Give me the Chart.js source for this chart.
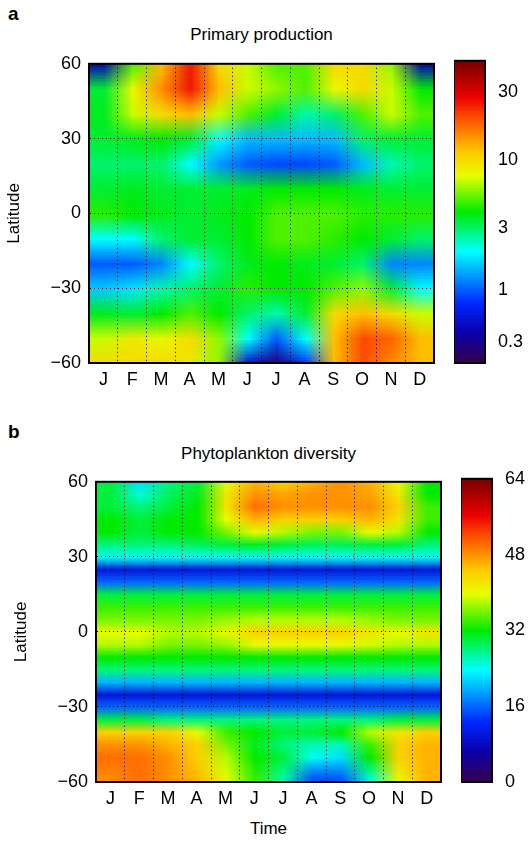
<!DOCTYPE html>
<html><head><meta charset="utf-8">
<script src="https://cdn.jsdelivr.net/npm/chart.js@4"></script>
<style>
body{margin:0;width:528px;height:841px;background:#fff;font-family:"Liberation Sans",Arial,sans-serif;position:relative;overflow:hidden}
.t{position:absolute;font-size:17px;color:#000}
.box{position:absolute}
</style></head><body>
<div class="t" style="left:8px;top:3px;font-weight:bold;font-size:19px">a</div>
<div class="t" style="left:89px;width:345px;top:25px;text-align:center">Primary production</div>
<div class="t" style="left:8px;top:421px;font-weight:bold;font-size:19px">b</div>
<div class="t" style="left:96px;width:345px;top:444px;text-align:center">Phytoplankton diversity</div>
<div class="t" style="left:96px;width:345px;top:819px;text-align:center">Time</div>
<div class="box" style="left:0;top:45px;width:449px;height:355px"><canvas id="heatA"></canvas></div>
<div class="box" style="left:454px;top:45px;width:74px;height:355px"><canvas id="barA"></canvas></div>
<div class="box" style="left:7px;top:463px;width:449px;height:356px"><canvas id="heatB"></canvas></div>
<div class="box" style="left:461px;top:463px;width:67px;height:356px"><canvas id="barB"></canvas></div>
<script>
const months = ["J","F","M","A","M","J","J","A","S","O","N","D"];
const latTicks = [60,30,0,-30,-60];

// primary production, rows every 10 deg from 60 to -60, cols = months
const production = [
  [0.4,5,12,25,10,7,5,5,10,10,6,0.4],
  [3.5,8,15,25,12,7,6,5,8,10,7,4],
  [3.7,7,10,12,7,5,3.5,2.5,3,5,7,5],
  [3.5,3.7,4,3.5,2,1.5,1.5,1.5,1.5,3,3.5,3.5],
  [3,3,3,2,1.3,1,0.9,0.9,1,1.5,2.5,3],
  [3.5,3.7,3.5,3.5,3.5,3.7,4,4,4,3.7,3.5,3.5],
  [4.5,4,3.7,3.5,3.7,4,5,5,5,4.5,4.5,4.5],
  [2,2,3,3.5,3.5,4,5,5,4.5,4,3.5,3],
  [1,1,1.2,2,3,3.7,4,3.7,3.5,3,1.2,1.2],
  [1.6,1.8,2.5,3,3.5,4.5,4,4,5,6,3.5,2],
  [3.7,3.5,4,5,4,3,2.5,3.5,10,12,10,7],
  [7,9,8,10,6,2,1,2,12,20,18,12],
  [10,10,10,9,6,0.5,0.25,0.8,12,20,15,12]
];
// colour bar ticks and their read-off fraction of the bar height
const prodTicks = [0.3,1,3,10,30];
const prodTickPos = [0.071,0.24,0.445,0.672,0.896];

// phytoplankton diversity, rows every 5 deg from 60 to -60
const diversity = [
  [30,22,28,30,40,46,44,46,48,46,40,32],
  [30,25,29,31,42,48,47,48,48,47,42,32],
  [30,28,30,32,42,50,48,48,48,48,44,34],
  [32,30,32,32,40,46,44,44,44,46,42,34],
  [32,30,32,32,36,40,38,36,36,40,38,32],
  [28,28,28,29,30,31,30,29,29,30,30,28],
  [24,24,24,24,24,24,24,24,24,24,24,24],
  [10,10,10,10,10,10,10,10,10,10,10,10],
  [16,16,16,16,16,16,16,16,16,16,16,16],
  [30,30,30,30,30,30,30,30,30,30,30,30],
  [34,34,34,34,34,34,34,34,34,34,34,34],
  [36,36,36,36,37,38,38,38,38,37,36,36],
  [40,40,38,38,40,44,44,44,44,42,40,42],
  [38,38,36,36,37,40,40,40,40,39,38,38],
  [32,32,32,32,32,32,32,32,32,32,32,32],
  [28,28,28,28,28,28,28,28,28,28,28,28],
  [20,20,20,20,20,20,20,20,20,20,20,20],
  [10,10,10,10,10,10,10,10,10,10,10,10],
  [16,16,16,16,16,16,16,16,16,16,16,16],
  [30,30,28,28,28,28,28,28,28,28,30,30],
  [44,44,44,40,34,32,30,30,32,38,42,44],
  [48,48,46,44,36,31,28,26,26,34,44,46],
  [50,50,48,44,38,32,30,24,22,32,44,46],
  [49,50,48,45,39,33,28,18,18,28,42,46],
  [48,50,48,46,40,34,26,14,14,24,40,46]
];
const divTicks = [0,16,32,48,64];

const cmap = [
  [0,[55,0,75]],[0.1,[10,0,170]],[0.2,[0,40,255]],[0.37,[0,255,255]],
  [0.5,[0,235,0]],[0.62,[230,255,0]],[0.7,[255,200,0]],[0.8,[255,90,0]],
  [0.88,[235,0,0]],[1,[120,0,0]]
];
function colour(t){
  t = Math.max(0, Math.min(1, t));
  for (let i = 1; i < cmap.length; i++){
    if (t <= cmap[i][0]){
      const [t0,c0] = cmap[i-1], [t1,c1] = cmap[i], f = (t-t0)/(t1-t0);
      return c0.map((c,k) => Math.round(c + f*(c1[k]-c)));
    }
  }
  return cmap[cmap.length-1][1];
}
// piecewise log interpolation through the colour bar ticks
function normProd(v){
  const L = Math.log10(v), lt = prodTicks.map(Math.log10);
  let i = 1;
  while (i < lt.length-1 && L > lt[i]) i++;
  return prodTickPos[i-1] + (L-lt[i-1])*(prodTickPos[i]-prodTickPos[i-1])/(lt[i]-lt[i-1]);
}
const normLin = v => v/64;

const font = {family:"'Liberation Sans', Arial, sans-serif", size:18};
const frame = {
  id:"frame",
  afterDraw(chart){
    const {ctx, chartArea:a} = chart;
    ctx.save(); ctx.strokeStyle = "#000"; ctx.lineWidth = 2;
    ctx.strokeRect(a.left, a.top, a.width, a.height); ctx.restore();
  }
};

function heatPlugin(grid, norm){
  return {
    id:"heat",
    beforeDraw(chart){
      const {ctx, chartArea:a, scales:{y}} = chart;
      const off = document.createElement("canvas");
      off.width = months.length; off.height = grid.length;
      const octx = off.getContext("2d");
      const img = octx.createImageData(off.width, off.height);
      grid.forEach((row, r) => row.forEach((v, c) => {
        const [R,G,B] = colour(norm(v)), i = 4*(r*off.width + c);
        img.data[i]=R; img.data[i+1]=G; img.data[i+2]=B; img.data[i+3]=255;
      }));
      octx.putImageData(img, 0, 0);
      const half = 60/(grid.length-1);
      const y0 = y.getPixelForValue(60+half), y1 = y.getPixelForValue(-60-half);
      ctx.save();
      ctx.beginPath(); ctx.rect(a.left, a.top, a.width, a.height); ctx.clip();
      ctx.imageSmoothingEnabled = true;
      ctx.drawImage(off, a.left, y0, a.width, y1-y0);
      ctx.restore();
    }
  };
}

function heatChart(id, grid, norm){
  return new Chart(document.getElementById(id), {
    type:"scatter",
    data:{labels:months, datasets:[{data:[]}]},
    plugins:[heatPlugin(grid, norm), frame],
    options:{
      responsive:true, maintainAspectRatio:false, animation:false,
      layout:{padding:{top:10, right:15, left:0, bottom:0}},
      plugins:{legend:{display:false}, tooltip:{enabled:false}},
      scales:{
        x:{type:"category", offset:true,
          afterFit: s => { s.height = 37; },
          ticks:{color:"#000", font, padding:6, autoSkip:false, maxRotation:0},
          grid:{offset:true, color:"#000", lineWidth:1, drawTicks:false},
          border:{color:"#000", dash:[1,3]}},
        y:{type:"linear", min:-60, max:60,
          afterBuildTicks: s => { s.ticks = latTicks.map(v => ({value:v})); },
          afterFit: s => { s.width = 89; },
          ticks:{color:"#000", font, padding:8, callback:v => String(v).replace("-","\u2212")},
          title:{display:true, text:"Latitude", color:"#000", font:{...font, size:17}, padding:4},
          grid:{color:"#000", lineWidth:1, drawTicks:false},
          border:{color:"#000", dash:[1,3]}}
      }
    }
  });
}

function barPlugin(norm){
  return {
    id:"cbar",
    beforeDraw(chart){
      const {ctx, chartArea:a, scales:{y}} = chart;
      for (let p = Math.floor(a.top); p < a.bottom; p++){
        const [R,G,B] = colour(norm(y.getValueForPixel(p+0.5)));
        ctx.fillStyle = `rgb(${R},${G},${B})`;
        ctx.fillRect(a.left, p, a.width, 1);
      }
    }
  };
}

function barChart(id, yScale, norm, w){
  return new Chart(document.getElementById(id), {
    type:"scatter",
    data:{datasets:[{data:[]}]},
    plugins:[barPlugin(norm), frame],
    options:{
      responsive:true, maintainAspectRatio:false, animation:false,
      layout:{padding:{top:10, bottom:37, left:0, right:0}},
      plugins:{legend:{display:false}, tooltip:{enabled:false}},
      scales:{
        x:{display:false, min:0, max:1},
        y:Object.assign({position:"right",
          afterFit: s => { s.width = w-31; },
          grid:{display:false},
          border:{color:"#000", display:true}}, yScale)
      }
    }
  });
}

heatChart("heatA", production, normProd);
// bar A axis runs in colour-bar fraction; ticks placed at the read positions
barChart("barA", {type:"linear", min:0, max:1,
  afterBuildTicks: s => { s.ticks = prodTickPos.map(v => ({value:v})); },
  ticks:{color:"#000", font, padding:5, callback:(v,i) => String(prodTicks[i])}},
  t => t, 74);

heatChart("heatB", diversity, normLin);
barChart("barB", {type:"linear", min:0, max:64,
  afterBuildTicks: s => { s.ticks = divTicks.map(v => ({value:v})); },
  ticks:{color:"#000", font, padding:5}}, normLin, 67);
</script>
</body></html>
